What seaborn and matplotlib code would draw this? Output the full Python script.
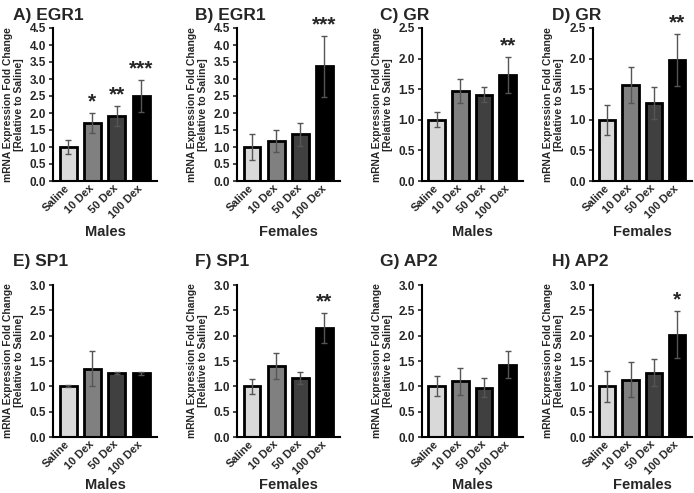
import pandas as pd
import seaborn as sns
import matplotlib.pyplot as plt

# Conditions and bar colours
conditions = ['Saline', '10 Dex', '50 Dex', '100 Dex']
colors = ['#d9d9d9', '#808080', '#404040', '#000000']

# Panel values (mean, SEM, significance)
titles = ['A) EGR1', 'B) EGR1', 'C) GR', 'D) GR',
          'E) SP1', 'F) SP1', 'G) AP2', 'H) AP2']
groups = ['Males', 'Females', 'Males', 'Females',
          'Males', 'Females', 'Males', 'Females']
means = [
    [1.0, 1.70, 1.92, 2.50],
    [1.0, 1.18, 1.37, 3.37],
    [1.0, 1.47, 1.41, 1.73],
    [1.0, 1.57, 1.27, 1.98],
    [1.0, 1.35, 1.27, 1.26],
    [1.0, 1.40, 1.16, 2.15],
    [1.0, 1.10, 0.97, 1.43],
    [1.0, 1.13, 1.27, 2.02],
]
sems = [
    [0.20, 0.30, 0.30, 0.47],
    [0.38, 0.32, 0.35, 0.90],
    [0.12, 0.20, 0.12, 0.29],
    [0.25, 0.30, 0.26, 0.43],
    [0.02, 0.35, 0.02, 0.03],
    [0.15, 0.26, 0.12, 0.30],
    [0.20, 0.27, 0.19, 0.27],
    [0.30, 0.35, 0.27, 0.47],
]
stars = [
    ['', '*', '**', '***'],
    ['', '', '', '***'],
    ['', '', '', '**'],
    ['', '', '', '**'],
    ['', '', '', ''],
    ['', '', '', '**'],
    ['', '', '', ''],
    ['', '', '', '*'],
]
ymaxes = [4.5, 4.5, 2.5, 2.5, 3.0, 3.0, 3.0, 3.0]

sns.set_style('white')
plt.rcParams['font.family'] = ['Liberation Sans', 'DejaVu Sans']
plt.rcParams['font.weight'] = 'bold'

fig = plt.figure(figsize=(6.94, 4.93), dpi=100)

# axes boxes in pixels: (left, right) per column, (top, bottom) per row
cols = [(53, 157), (237, 340), (422, 523), (593, 692)]
rows = [(28, 181), (285, 437)]
title_x = [13, 195, 380, 552]
W, H = 694, 493

for i in range(8):
    r, c = divmod(i, 4)
    l, rr = cols[c]
    t, b = rows[r]
    ax = fig.add_axes([l / W, 1 - b / H, (rr - l) / W, (b - t) / H])

    df = pd.DataFrame({'cond': conditions, 'val': means[i], 'sem': sems[i]})
    sns.barplot(data=df, x='cond', y='val', hue='cond', palette=colors,
                edgecolor='black', linewidth=2, width=0.7, errorbar=None,
                legend=False, ax=ax, zorder=2)
    ax.errorbar(range(4), df['val'], yerr=df['sem'], fmt='none',
                ecolor='#555555', elinewidth=1, capsize=2, capthick=1, zorder=3)
    for k in range(4):
        if stars[i][k]:
            ax.text(k, df['val'][k] + df['sem'][k] + 0.01 * ymaxes[i],
                    stars[i][k], ha='center', va='bottom',
                    fontsize=15, fontweight='bold')

    ax.set_xlim(-0.62, 3.65)
    ax.set_ylim(0, ymaxes[i])
    ticks = [j * 0.5 for j in range(int(round(ymaxes[i] / 0.5)) + 1)]
    ax.set_yticks(ticks)
    ax.set_yticklabels([f'{v:.1f}' for v in ticks], fontsize=8.5, fontweight='bold')
    ax.set_xticks(range(4))
    ax.set_xticklabels(conditions, rotation=45, ha='right', va='center',
                       rotation_mode='anchor', fontsize=8, fontweight='bold')
    ax.tick_params(axis='y', direction='out', length=3, width=1.2, pad=2, left=True)
    ax.tick_params(axis='x', length=0, pad=4)

    for s in ['top', 'right']:
        ax.spines[s].set_visible(False)
    for s in ['left', 'bottom']:
        ax.spines[s].set_linewidth(1.5)
        ax.spines[s].set_color('black')

    ax.set_ylabel('mRNA Expression Fold Change\n[Relative to Saline]',
                  fontsize=7.4, fontweight='bold', labelpad=4, linespacing=1.1)
    ax.set_xlabel(groups[i], fontsize=10.5, fontweight='bold')
    ax.xaxis.set_label_coords(0.5, -0.29 if r == 0 else -0.27)
    ax.set_title(titles[i], fontsize=12.5, fontweight='bold', loc='left',
                 x=(title_x[c] - l) / (rr - l), pad=6 if r == 0 else 14)

fig.savefig('out.png', dpi=100)
